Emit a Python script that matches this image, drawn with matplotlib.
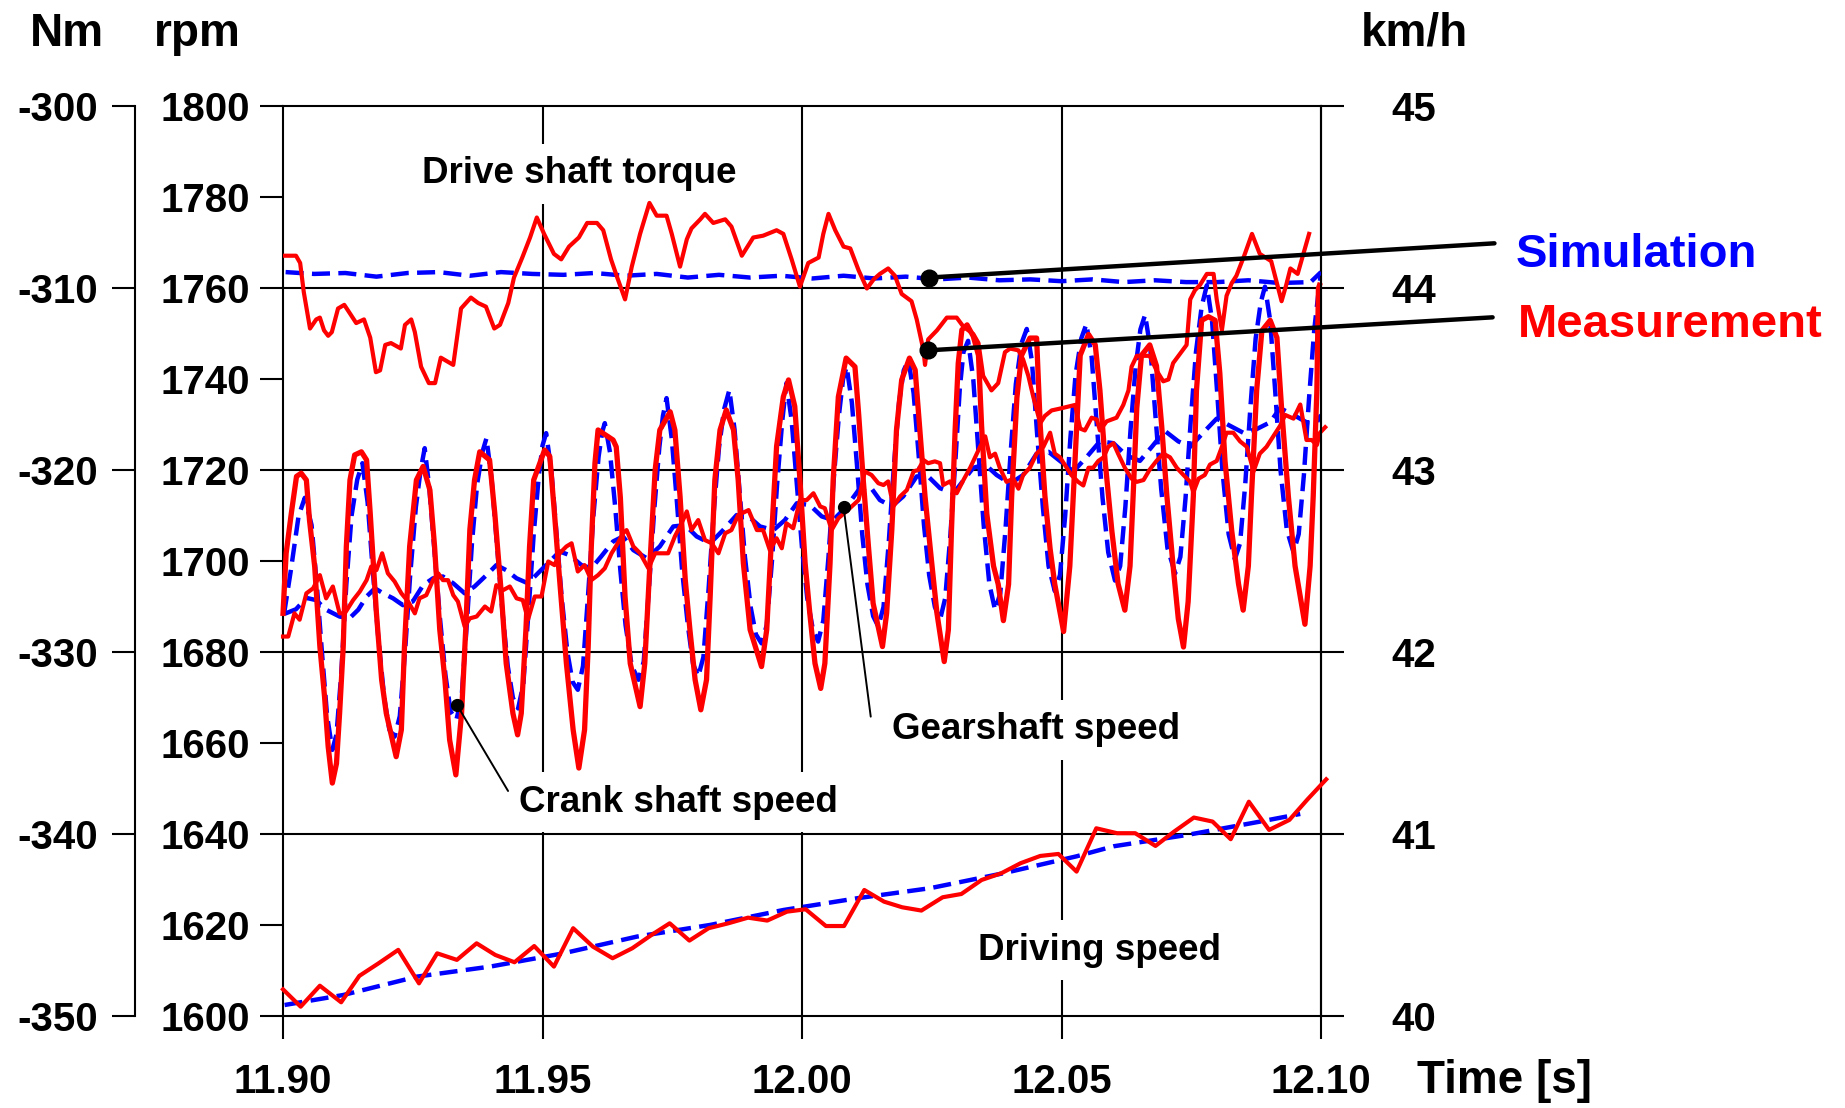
import matplotlib
matplotlib.use("Agg")
import matplotlib.pyplot as plt
from matplotlib.ticker import FormatStrFormatter, MultipleLocator

plt.rcParams.update({
    "font.family": ["Liberation Sans", "DejaVu Sans"],
    "font.weight": "bold",
    "axes.unicode_minus": False,
    "lines.scale_dashes": False,
    "axes.linewidth": 1.5,
})

RED = "#ff0000"
BLUE = "#0000ff"
DASH = (13, 6)

# ── data: crank shaft speed [rpm] ─────────────────────────────
crank_meas_t = [
    11.9000, 11.9006, 11.9016, 11.9026, 11.9035, 11.9045, 11.9051, 11.9061, 11.9071, 11.9080,
    11.9087, 11.9095, 11.9103, 11.9109, 11.9116, 11.9122, 11.9129, 11.9138, 11.9151, 11.9161,
    11.9168, 11.9180, 11.9190, 11.9199, 11.9218, 11.9228, 11.9234, 11.9244, 11.9257, 11.9270,
    11.9283, 11.9292, 11.9302, 11.9312, 11.9321, 11.9333, 11.9344, 11.9352, 11.9360, 11.9369,
    11.9379, 11.9398, 11.9408, 11.9421, 11.9430, 11.9443, 11.9452, 11.9459, 11.9468, 11.9475,
    11.9483, 11.9504, 11.9514, 11.9523, 11.9533, 11.9546, 11.9559, 11.9570, 11.9581, 11.9588,
    11.9594, 11.9601, 11.9607, 11.9636, 11.9642, 11.9650, 11.9659, 11.9669, 11.9688, 11.9697,
    11.9707, 11.9717, 11.9726, 11.9746, 11.9755, 11.9765, 11.9775, 11.9784, 11.9794, 11.9805,
    11.9816, 11.9823, 11.9832, 11.9842, 11.9854, 11.9868, 11.9877, 11.9887, 11.9900, 11.9922,
    11.9932, 11.9942, 11.9951, 11.9964, 11.9974, 11.9986, 11.9996, 12.0006, 12.0015, 12.0025,
    12.0036, 12.0044, 12.0054, 12.0060, 12.0070, 12.0085, 12.0102, 12.0109, 12.0118, 12.0128,
    12.0137, 12.0155, 12.0163, 12.0173, 12.0182, 12.0192, 12.0207, 12.0218, 12.0227, 12.0237,
    12.0250, 12.0260, 12.0274, 12.0282, 12.0288, 12.0295, 12.0301, 12.0308, 12.0318, 12.0330,
    12.0340, 12.0346, 12.0356, 12.0369, 12.0378, 12.0388, 12.0398, 12.0404, 12.0414, 12.0423,
    12.0439, 12.0452, 12.0459, 12.0468, 12.0478, 12.0487, 12.0504, 12.0516, 12.0526, 12.0536,
    12.0552, 12.0565, 12.0574, 12.0584, 12.0597, 12.0609, 12.0622, 12.0632, 12.0638, 12.0645,
    12.0654, 12.0670, 12.0683, 12.0693, 12.0703, 12.0715, 12.0725, 12.0735, 12.0744, 12.0754,
    12.0760, 12.0770, 12.0783, 12.0796, 12.0805, 12.0815, 12.0828, 12.0841, 12.0850, 12.0860,
    12.0866, 12.0876, 12.0886, 12.0902, 12.0915, 12.0924, 12.0937, 12.0950, 12.0969, 12.0979,
    12.0985, 12.0992, 12.0995, 12.0997,
]
crank_meas_rpm = [
    1688.6, 1701.8, 1710.6, 1718.7, 1719.4, 1717.9, 1709.1, 1698.9, 1681.3, 1670.3,
    1659.3, 1651.3, 1655.6, 1666.6, 1681.3, 1703.3, 1717.9, 1723.4, 1724.1, 1722.3,
    1710.6, 1688.6, 1674.0, 1666.6, 1657.1, 1663.0, 1681.3, 1703.3, 1717.9, 1720.9,
    1715.7, 1703.3, 1685.0, 1674.0, 1660.8, 1653.1, 1666.6, 1685.0, 1707.0, 1717.9,
    1724.1, 1722.3, 1710.6, 1692.3, 1677.6, 1666.6, 1661.9, 1666.6, 1685.0, 1703.3,
    1717.9, 1724.5, 1723.1, 1710.6, 1695.9, 1677.6, 1663.0, 1654.6, 1663.0, 1681.3,
    1703.3, 1721.6, 1728.9, 1726.7, 1725.2, 1714.0, 1692.3, 1677.6, 1668.1, 1677.6,
    1699.6, 1720.1, 1728.9, 1732.9, 1728.9, 1714.3, 1696.0, 1685.0, 1674.0, 1667.4,
    1674.0, 1692.3, 1717.9, 1728.9, 1733.3, 1728.9, 1717.9, 1699.6, 1685.0, 1676.9,
    1685.0, 1706.9, 1725.3, 1736.2, 1739.9, 1734.1, 1717.9, 1699.6, 1688.6, 1677.6,
    1672.1, 1677.6, 1699.6, 1717.9, 1736.2, 1744.7, 1742.8, 1732.6, 1717.9, 1703.3,
    1690.8, 1681.3, 1688.6, 1706.9, 1728.9, 1739.9, 1744.7, 1742.1, 1728.9, 1714.3,
    1699.6, 1688.6, 1678.0, 1685.0, 1706.9, 1728.9, 1743.6, 1750.9, 1752.0, 1749.5,
    1745.3, 1729.8, 1710.5, 1699.0, 1695.0, 1687.0, 1695.0, 1714.4, 1736.0, 1745.3,
    1749.1, 1749.1, 1729.8, 1714.4, 1702.8, 1695.0, 1684.6, 1699.0, 1722.1, 1745.3,
    1749.9, 1747.6, 1737.6, 1722.1, 1706.7, 1695.1, 1689.3, 1699.0, 1714.4, 1733.7,
    1745.3, 1747.6, 1743.0, 1729.8, 1714.4, 1699.0, 1687.4, 1681.2, 1691.2, 1714.4,
    1737.6, 1753.0, 1753.8, 1753.0, 1741.4, 1722.1, 1706.7, 1695.1, 1689.3, 1699.0,
    1714.4, 1737.6, 1750.7, 1753.0, 1749.2, 1733.7, 1714.4, 1699.0, 1686.2, 1699.0,
    1714.4, 1737.6, 1760.0, 1760.7,
]

crank_sim_t = [
    11.9002, 11.9015, 11.9030, 11.9042, 11.9055, 11.9065, 11.9075, 11.9085, 11.9095, 11.9103,
    11.9112, 11.9122, 11.9132, 11.9143, 11.9153, 11.9163, 11.9173, 11.9183, 11.9195, 11.9205,
    11.9215, 11.9225, 11.9235, 11.9245, 11.9256, 11.9265, 11.9273, 11.9282, 11.9292, 11.9302,
    11.9313, 11.9323, 11.9334, 11.9344, 11.9354, 11.9364, 11.9374, 11.9384, 11.9392, 11.9402,
    11.9412, 11.9422, 11.9433, 11.9443, 11.9453, 11.9463, 11.9473, 11.9483, 11.9493, 11.9500,
    11.9507, 11.9517, 11.9527, 11.9537, 11.9548, 11.9558, 11.9568, 11.9578, 11.9588, 11.9598,
    11.9608, 11.9615, 11.9620, 11.9630, 11.9640, 11.9650, 11.9660, 11.9672, 11.9685, 11.9695,
    11.9705, 11.9715, 11.9725, 11.9732, 11.9739, 11.9749, 11.9759, 11.9769, 11.9780, 11.9790,
    11.9800, 11.9810, 11.9820, 11.9830, 11.9840, 11.9850, 11.9860, 11.9870, 11.9880, 11.9890,
    11.9901, 11.9911, 11.9922, 11.9932, 11.9942, 11.9952, 11.9962, 11.9970, 11.9980, 11.9990,
    12.0000, 12.0010, 12.0021, 12.0031, 12.0041, 12.0051, 12.0061, 12.0071, 12.0079, 12.0086,
    12.0096, 12.0106, 12.0116, 12.0126, 12.0137, 12.0147, 12.0157, 12.0167, 12.0177, 12.0187,
    12.0196, 12.0205, 12.0215, 12.0225, 12.0235, 12.0245, 12.0256, 12.0266, 12.0276, 12.0286,
    12.0296, 12.0304, 12.0311, 12.0320, 12.0330, 12.0340, 12.0350, 12.0361, 12.0372, 12.0382,
    12.0392, 12.0402, 12.0412, 12.0423, 12.0433, 12.0443, 12.0453, 12.0464, 12.0475, 12.0487,
    12.0497, 12.0507, 12.0517, 12.0527, 12.0538, 12.0548, 12.0558, 12.0568, 12.0579, 12.0590,
    12.0603, 12.0613, 12.0623, 12.0633, 12.0643, 12.0652, 12.0661, 12.0671, 12.0681, 12.0692,
    12.0704, 12.0719, 12.0729, 12.0739, 12.0749, 12.0759, 12.0770, 12.0780, 12.0790, 12.0800,
    12.0810, 12.0822, 12.0834, 12.0844, 12.0854, 12.0864, 12.0874, 12.0884, 12.0892, 12.0902,
    12.0912, 12.0922, 12.0934, 12.0947, 12.0957, 12.0967, 12.0977, 12.0987, 12.0995, 12.1000,
]
crank_sim_rpm = [
    1688.5, 1698, 1710, 1714, 1708, 1695, 1680, 1666, 1658.6, 1662,
    1675, 1695, 1710, 1718, 1721.6, 1713, 1698, 1684, 1670, 1663,
    1661.5, 1666, 1680, 1697, 1712, 1720, 1724.9, 1716, 1702, 1688,
    1675, 1667, 1665.2, 1670, 1686, 1704, 1717, 1724, 1727.1, 1718,
    1704, 1690, 1677, 1670, 1667.7, 1673, 1689, 1706, 1719, 1725.5,
    1728.2, 1720, 1706, 1692, 1680, 1673.5, 1671.8, 1677, 1693, 1710,
    1723, 1728.5, 1730.4, 1724, 1712, 1698, 1686, 1677, 1674, 1678,
    1694, 1711, 1725, 1732, 1735.9, 1727, 1713, 1698, 1686, 1677.5,
    1674.7, 1679, 1694, 1711, 1725, 1733.5, 1737.7, 1729, 1715, 1701,
    1690, 1684, 1682, 1686, 1700, 1717, 1731, 1739.2, 1731, 1717,
    1703, 1692, 1685, 1682.4, 1687, 1701, 1718, 1732, 1740, 1742.8,
    1735, 1721, 1706, 1695, 1688, 1685.7, 1690, 1704, 1721, 1735,
    1742, 1744.3, 1737, 1723, 1708, 1697, 1690, 1687.2, 1692, 1706,
    1723, 1738, 1746, 1748.5, 1740, 1724, 1708, 1695, 1689.3, 1693,
    1707, 1724, 1739, 1748, 1751.1, 1744, 1728, 1712, 1699, 1693.5,
    1697, 1710, 1727, 1741, 1749, 1752.2, 1745, 1730, 1714, 1702,
    1695.8, 1699, 1712, 1729, 1743, 1751, 1754.2, 1747, 1732, 1716,
    1703, 1697.4, 1701, 1714, 1731, 1746, 1756, 1760.7, 1753, 1737,
    1720, 1706, 1700.5, 1704, 1717, 1734, 1749, 1757, 1760.4, 1753,
    1737, 1720, 1707, 1702, 1706, 1719, 1736, 1751, 1759, 1763.5,
]

# ── data: gearshaft speed [rpm] ───────────────────────────────
gear_meas_t = [
    11.9000, 11.9010, 11.9022, 11.9032, 11.9045, 11.9058, 11.9071, 11.9083, 11.9096, 11.9109,
    11.9119, 11.9135, 11.9148, 11.9161, 11.9170, 11.9180, 11.9191, 11.9202, 11.9215, 11.9228,
    11.9241, 11.9254, 11.9263, 11.9276, 11.9289, 11.9299, 11.9308, 11.9318, 11.9328, 11.9337,
    11.9350, 11.9360, 11.9373, 11.9389, 11.9401, 11.9411, 11.9424, 11.9437, 11.9450, 11.9462,
    11.9472, 11.9485, 11.9498, 11.9511, 11.9523, 11.9533, 11.9546, 11.9556, 11.9568, 11.9581,
    11.9594, 11.9607, 11.9620, 11.9633, 11.9645, 11.9655, 11.9662, 11.9675, 11.9688, 11.9704,
    11.9717, 11.9742, 11.9755, 11.9768, 11.9778, 11.9787, 11.9800, 11.9813, 11.9826, 11.9839,
    11.9852, 11.9864, 11.9877, 11.9897, 11.9913, 11.9925, 11.9938, 11.9951, 11.9961, 11.9970,
    11.9983, 11.9996, 12.0009, 12.0022, 12.0035, 12.0044, 12.0057, 12.0070, 12.0092, 12.0109,
    12.0121, 12.0134, 12.0147, 12.0157, 12.0166, 12.0176, 12.0189, 12.0202, 12.0215, 12.0224,
    12.0234, 12.0243, 12.0256, 12.0266, 12.0272, 12.0285, 12.0298, 12.0311, 12.0324, 12.0343,
    12.0353, 12.0362, 12.0372, 12.0381, 12.0394, 12.0407, 12.0417, 12.0426, 12.0439, 12.0452,
    12.0465, 12.0478, 12.0487, 12.0497, 12.0510, 12.0519, 12.0532, 12.0542, 12.0552, 12.0561,
    12.0571, 12.0581, 12.0590, 12.0600, 12.0609, 12.0622, 12.0635, 12.0645, 12.0658, 12.0670,
    12.0683, 12.0696, 12.0709, 12.0722, 12.0735, 12.0748, 12.0754, 12.0764, 12.0776, 12.0786,
    12.0799, 12.0809, 12.0818, 12.0831, 12.0844, 12.0857, 12.0870, 12.0882, 12.0895, 12.0908,
    12.0921, 12.0931, 12.0947, 12.0960, 12.0972, 12.0982, 12.0992, 12.0998, 12.1008,
]
gear_meas_rpm = [
    1683.5, 1683.5, 1688.6, 1687.2, 1693.0, 1694.1, 1697.0, 1691.9, 1694.5, 1688.6,
    1688.6, 1691.5, 1693.4, 1695.9, 1698.9, 1698.1, 1701.8, 1697.4, 1695.6, 1693.0,
    1691.2, 1688.6, 1691.9, 1692.6, 1695.9, 1697.4, 1695.9, 1695.9, 1692.6, 1691.2,
    1685.7, 1687.5, 1687.9, 1690.1, 1689.0, 1694.8, 1693.7, 1694.5, 1691.9, 1691.5,
    1687.2, 1692.3, 1692.3, 1700.0, 1699.2, 1701.8, 1703.3, 1704.0, 1697.8, 1699.2,
    1695.9, 1697.0, 1698.5, 1701.8, 1704.0, 1706.2, 1706.9, 1703.3, 1701.8, 1698.5,
    1701.8, 1701.8, 1705.5, 1708.4, 1711.0, 1706.9, 1709.1, 1704.7, 1704.0, 1701.8,
    1706.2, 1706.9, 1710.2, 1711.3, 1706.9, 1706.9, 1702.5, 1705.1, 1702.9, 1708.4,
    1707.3, 1713.5, 1713.5, 1715.0, 1712.1, 1711.7, 1706.9, 1709.5, 1711.7, 1713.5,
    1719.8, 1719.0, 1717.2, 1716.8, 1717.6, 1712.1, 1714.3, 1715.7, 1719.8, 1720.1,
    1722.3, 1721.6, 1722.0, 1721.6, 1716.8, 1717.6, 1715.0, 1717.9, 1720.6, 1725.2,
    1727.5, 1722.9, 1723.7, 1720.6, 1717.5, 1718.2, 1716.0, 1719.0, 1720.6, 1723.7,
    1725.2, 1728.3, 1723.7, 1722.9, 1720.6, 1719.0, 1717.5, 1716.7, 1720.6, 1720.6,
    1722.1, 1722.9, 1725.2, 1726.0, 1723.7, 1720.6, 1718.2, 1717.5, 1717.9, 1720.2,
    1722.1, 1723.7, 1722.9, 1720.6, 1719.0, 1717.5, 1715.2, 1718.2, 1719.0, 1721.3,
    1722.1, 1725.2, 1728.3, 1728.3, 1726.4, 1725.2, 1719.8, 1723.7, 1725.2, 1727.5,
    1729.8, 1732.2, 1731.4, 1734.5, 1726.7, 1726.7, 1725.6, 1728.3, 1729.5,
]

gear_sim_t = [
    11.9003, 11.9025, 11.9045, 11.9064, 11.9083, 11.9109, 11.9128, 11.9145, 11.9161, 11.9177,
    11.9193, 11.9212, 11.9231, 11.9250, 11.9270, 11.9289, 11.9308, 11.9328, 11.9350, 11.9369,
    11.9392, 11.9411, 11.9430, 11.9450, 11.9472, 11.9491, 11.9514, 11.9533, 11.9552, 11.9575,
    11.9594, 11.9613, 11.9636, 11.9655, 11.9675, 11.9701, 11.9726, 11.9752, 11.9775, 11.9797,
    11.9823, 11.9848, 11.9874, 11.9897, 11.9919, 11.9945, 11.9967, 11.9990, 12.0015, 12.0038,
    12.0060, 12.0086, 12.0109, 12.0131, 12.0150, 12.0173, 12.0195, 12.0221, 12.0243, 12.0266,
    12.0292, 12.0317, 12.0330, 12.0353, 12.0375, 12.0401, 12.0426, 12.0452, 12.0475, 12.0497,
    12.0523, 12.0548, 12.0574, 12.0600, 12.0625, 12.0651, 12.0674, 12.0699, 12.0725, 12.0748,
    12.0773, 12.0799, 12.0825, 12.0850, 12.0876, 12.0902, 12.0921, 12.0947, 12.0972, 12.0992,
    12.1000,
]
gear_sim_rpm = [
    1688.5, 1689.5, 1692.0, 1691.5, 1689.4, 1687.9, 1687.5, 1689.4, 1692.3, 1694.1,
    1693.0, 1691.9, 1690.4, 1691.2, 1694.8, 1696.3, 1696.7, 1695.2, 1693.0, 1694.5,
    1697.0, 1699.2, 1698.1, 1696.3, 1695.2, 1697.4, 1700.0, 1702.2, 1701.4, 1699.2,
    1698.5, 1701.1, 1704.4, 1705.5, 1702.5, 1700.7, 1703.3, 1707.7, 1708.0, 1705.5,
    1704.0, 1706.9, 1710.2, 1709.9, 1707.7, 1706.9, 1709.1, 1712.8, 1712.4, 1709.9,
    1709.1, 1712.1, 1715.7, 1716.5, 1713.5, 1712.1, 1714.3, 1718.7, 1718.7, 1716.1,
    1715.0, 1718.7, 1720.6, 1721.3, 1719.0, 1717.1, 1719.0, 1723.7, 1724.1, 1722.1,
    1719.8, 1722.9, 1726.4, 1726.0, 1723.3, 1722.1, 1725.2, 1728.7, 1726.4, 1725.2,
    1728.3, 1731.4, 1729.8, 1728.3, 1729.1, 1730.6, 1733.7, 1732.2, 1730.6, 1730.6,
    1732.2,
]

# ── data: drive shaft torque [Nm] ─────────────────────────────
torque_meas_t = [
    11.9000, 11.9025, 11.9033, 11.9040, 11.9052, 11.9064, 11.9071, 11.9079, 11.9087, 11.9094,
    11.9106, 11.9118, 11.9125, 11.9141, 11.9156, 11.9168, 11.9179, 11.9187, 11.9197, 11.9208,
    11.9227, 11.9235, 11.9247, 11.9254, 11.9266, 11.9281, 11.9293, 11.9304, 11.9328, 11.9343,
    11.9362, 11.9376, 11.9391, 11.9407, 11.9418, 11.9434, 11.9445, 11.9461, 11.9476, 11.9489,
    11.9503, 11.9522, 11.9536, 11.9551, 11.9570, 11.9586, 11.9605, 11.9617, 11.9632, 11.9644,
    11.9659, 11.9672, 11.9688, 11.9706, 11.9720, 11.9739, 11.9749, 11.9765, 11.9778, 11.9787,
    11.9804, 11.9813, 11.9829, 11.9852, 11.9864, 11.9884, 11.9906, 11.9925, 11.9951, 11.9964,
    11.9980, 11.9996, 12.0012, 12.0032, 12.0041, 12.0051, 12.0064, 12.0080, 12.0093, 12.0109,
    12.0125, 12.0138, 12.0150, 12.0166, 12.0179, 12.0192, 12.0211, 12.0221, 12.0234, 12.0237,
    12.0243, 12.0260, 12.0279, 12.0298, 12.0311, 12.0330, 12.0340, 12.0349, 12.0365, 12.0378,
    12.0391, 12.0401, 12.0417, 12.0426, 12.0436, 12.0446, 12.0459, 12.0468, 12.0481, 12.0497,
    12.0526, 12.0536, 12.0545, 12.0558, 12.0568, 12.0574, 12.0587, 12.0606, 12.0619, 12.0629,
    12.0635, 12.0645, 12.0670, 12.0683, 12.0696, 12.0706, 12.0715, 12.0728, 12.0741, 12.0748,
    12.0757, 12.0767, 12.0780, 12.0793, 12.0799, 12.0809, 12.0818, 12.0828, 12.0837, 12.0852,
    12.0867, 12.0882, 12.0904, 12.0915, 12.0924, 12.0933, 12.0941, 12.0955, 12.0966, 12.0974,
    12.0977,
]
torque_meas_nm = [
    -308.2, -308.2, -308.6, -310.2, -312.2, -311.7, -311.6, -312.3, -312.6, -312.4,
    -311.1, -310.9, -311.2, -311.9, -311.7, -312.7, -314.6, -314.5, -313.1, -313.0,
    -313.3, -312.0, -311.7, -312.4, -314.3, -315.2, -315.2, -313.8, -314.2, -311.1,
    -310.5, -310.8, -311.0, -312.2, -312.0, -310.8, -309.4, -308.3, -307.2, -306.1,
    -307.0, -308.1, -308.4, -307.7, -307.2, -306.4, -306.4, -306.8, -308.4, -309.4,
    -310.6, -308.8, -307.0, -305.3, -306.0, -306.0, -307.0, -308.8, -307.3, -306.7,
    -306.2, -305.9, -306.4, -306.2, -306.6, -308.2, -307.2, -307.1, -306.8, -307.0,
    -308.4, -309.9, -308.6, -308.3, -307.0, -305.9, -306.8, -307.7, -307.8, -309.0,
    -310.0, -309.5, -309.2, -308.9, -309.3, -310.3, -310.7, -311.7, -313.4, -314.2,
    -312.8, -312.3, -311.6, -311.6, -312.1, -312.5, -313.0, -314.8, -315.6, -315.2,
    -313.5, -313.3, -313.4, -313.9, -314.8, -316.0, -317.4, -317.0, -316.7, -316.6,
    -316.4, -317.7, -317.8, -317.1, -317.2, -317.8, -317.3, -317.1, -316.4, -315.6,
    -314.3, -313.7, -313.7, -314.5, -315.1, -315.0, -314.1, -313.6, -313.1, -310.6,
    -310.1, -309.8, -309.2, -309.2, -310.6, -312.3, -310.4, -309.7, -309.3, -308.2,
    -307.0, -308.1, -308.5, -309.7, -310.7, -309.8, -308.9, -309.2, -308.1, -307.3,
    -307.0,
]

torque_sim_t = [
    11.9005, 11.9060, 11.9120, 11.9180, 11.9240, 11.9300, 11.9360, 11.9420, 11.9480, 11.9540,
    11.9600, 11.9660, 11.9720, 11.9780, 11.9840, 11.9900, 11.9960, 12.0020, 12.0080, 12.0140,
    12.0200, 12.0260, 12.0320, 12.0380, 12.0440, 12.0500, 12.0560, 12.0620, 12.0680, 12.0740,
    12.0800, 12.0860, 12.0920, 12.0980, 12.1000,
]
torque_sim_nm = [
    -309.10, -309.20, -309.15, -309.35, -309.15, -309.10, -309.30, -309.10, -309.20, -309.25,
    -309.15, -309.30, -309.20, -309.40, -309.25, -309.40, -309.30, -309.45, -309.30, -309.45,
    -309.35, -309.50, -309.40, -309.55, -309.50, -309.60, -309.50, -309.65, -309.55, -309.65,
    -309.65, -309.55, -309.70, -309.65, -309.10,
]

# ── data: driving speed [km/h] ────────────────────────────────
speed_meas_t = [
    11.9000, 11.9034, 11.9071, 11.9112, 11.9147, 11.9184, 11.9222, 11.9262, 11.9297, 11.9335,
    11.9373, 11.9409, 11.9446, 11.9484, 11.9522, 11.9559, 11.9597, 11.9635, 11.9673, 11.9710,
    11.9745, 11.9783, 11.9820, 11.9858, 11.9896, 11.9933, 11.9971, 12.0007, 12.0046, 12.0081,
    12.0120, 12.0158, 12.0193, 12.0230, 12.0271, 12.0307, 12.0346, 12.0384, 12.0421, 12.0459,
    12.0494, 12.0529, 12.0567, 12.0607, 12.0642, 12.0681, 12.0717, 12.0755, 12.0791, 12.0826,
    12.0861, 12.0900, 12.0939, 12.0974, 12.1010,
]
speed_meas_kmh = [
    40.149, 40.054, 40.169, 40.078, 40.223, 40.292, 40.366, 40.182, 40.347, 40.311,
    40.402, 40.338, 40.298, 40.387, 40.274, 40.485, 40.384, 40.320, 40.375, 40.448,
    40.512, 40.417, 40.485, 40.512, 40.543, 40.527, 40.576, 40.589, 40.497, 40.497,
    40.695, 40.631, 40.600, 40.582, 40.655, 40.673, 40.750, 40.787, 40.842, 40.882,
    40.893, 40.796, 41.034, 41.007, 41.007, 40.937, 41.016, 41.093, 41.071, 40.974,
    41.180, 41.025, 41.080, 41.193, 41.303,
]

speed_sim_t = [
    11.9003, 11.9116, 11.9258, 11.9399, 11.9540, 11.9682, 11.9823, 11.9964, 12.0105, 12.0247,
    12.0388, 12.0529, 12.0600, 12.0741, 12.0812, 12.0883, 12.0960,
]
speed_sim_kmh = [
    40.063, 40.118, 40.219, 40.274, 40.347, 40.439, 40.503, 40.585, 40.649, 40.705,
    40.787, 40.880, 40.935, 40.997, 41.034, 41.071, 41.113,
]

# annotation anchor points (on the curves)
SIM_MARK = (12.0245, -309.4)      # torque simulation, Nm
MEAS_MARK = (12.0242, -313.4)     # torque measurement, Nm
CRANK_MARK = (11.9335, 1668.5)    # rpm
GEAR_MARK = (12.0080, 1712.0)     # rpm

# ── figure ────────────────────────────────────────────────────
fig = plt.figure(figsize=(18.45, 11.08), dpi=100)
ax = fig.add_axes([0.1534, 0.0826, 0.5626, 0.8213])
ax_kmh = ax.twinx()
ax_nm = ax.twinx()

ax.set_xlim(11.90, 12.10)
ax.set_ylim(1600, 1800)
ax_kmh.set_ylim(40, 45)
ax_nm.set_ylim(-350, -300)

ax.xaxis.set_major_locator(MultipleLocator(0.05))
ax.xaxis.set_major_formatter(FormatStrFormatter("%.2f"))
ax.yaxis.set_major_locator(MultipleLocator(20))
ax_kmh.yaxis.set_major_locator(MultipleLocator(1))
ax_nm.yaxis.set_major_locator(MultipleLocator(10))

TL = 16.5
ax.tick_params(axis="y", direction="out", length=TL, width=1.5, pad=7, labelsize=29)
ax.tick_params(axis="x", direction="out", length=TL, width=1.5, pad=17, labelsize=29)
ax_kmh.tick_params(axis="y", direction="out", length=TL, width=1.5, pad=34, labelsize=29)
ax_nm.tick_params(axis="y", direction="out", length=TL, width=1.5, pad=10, labelsize=29)

for s in ["top", "bottom", "left"]:
    ax_kmh.spines[s].set_visible(False)
ax_nm.spines["left"].set_position(("outward", 106.5))
ax_nm.spines["left"].set_visible(True)
for s in ["top", "bottom", "right"]:
    ax_nm.spines[s].set_visible(False)
ax_nm.yaxis.set_ticks_position("left")
ax_nm.yaxis.set_label_position("left")

# grid
for xv in [11.95, 12.00, 12.05]:
    ax.axvline(xv, color="black", lw=1.5, zorder=0.5)
for yv in [1640, 1680, 1720, 1760]:
    ax.axhline(yv, color="black", lw=1.5, zorder=0.5)

# curves
ax.plot(gear_sim_t, gear_sim_rpm, color=BLUE, lw=3.2, dashes=DASH, zorder=3)
ax.plot(crank_sim_t, crank_sim_rpm, color=BLUE, lw=3.2, dashes=DASH, zorder=3)
ax.plot(gear_meas_t, gear_meas_rpm, color=RED, lw=3.0, zorder=4, clip_on=False)
ax.plot(crank_meas_t, crank_meas_rpm, color=RED, lw=3.8, zorder=4, clip_on=False)

ax_nm.plot(torque_sim_t, torque_sim_nm, color=BLUE, lw=3.2, dashes=DASH, zorder=3)
ax_nm.plot(torque_meas_t, torque_meas_nm, color=RED, lw=3.0, zorder=4)

ax_kmh.plot(speed_sim_t, speed_sim_kmh, color=BLUE, lw=3.2, dashes=DASH, zorder=3)
ax_kmh.plot(speed_meas_t, speed_meas_kmh, color=RED, lw=3.0, zorder=4, clip_on=False)

# curve labels (white box breaks the grid)
box = dict(facecolor="white", edgecolor="none", pad=9)
LBL = 26.5
ax.text(0.134, 0.9156, "Drive shaft torque", transform=ax.transAxes,
        fontsize=LBL, va="baseline", bbox=box, zorder=2)
ax.text(0.2274, 0.2251, "Crank shaft speed", transform=ax.transAxes,
        fontsize=LBL, va="baseline", bbox=box, zorder=2)
ax.text(0.5864, 0.3049, "Gearshaft speed", transform=ax.transAxes,
        fontsize=LBL, va="baseline", bbox=box, zorder=2)
ax.text(0.6693, 0.0621, "Driving speed", transform=ax.transAxes,
        fontsize=LBL, va="baseline", bbox=box, zorder=2)

# leader lines + dots
thin = dict(arrowstyle="-", lw=1.4, color="black", shrinkA=0, shrinkB=0)
thick = dict(arrowstyle="-", lw=3.2, color="black", shrinkA=0, shrinkB=0)
ax.annotate("", xy=CRANK_MARK, xytext=(0.2168, 0.2478), textcoords="axes fraction",
            arrowprops=thin, zorder=6)
ax.annotate("", xy=GEAR_MARK, xytext=(0.5662, 0.3295), textcoords="axes fraction",
            arrowprops=thin, zorder=6)
ax.plot(*CRANK_MARK, "o", color="black", ms=8.5, zorder=7)
ax.plot(*GEAR_MARK, "o", color="black", ms=8.5, zorder=7)

ax_nm.annotate("", xy=SIM_MARK, xytext=(0.8100, 0.7804), textcoords="figure fraction",
               arrowprops=thick, zorder=6, annotation_clip=False)
ax_nm.annotate("", xy=MEAS_MARK, xytext=(0.8090, 0.7136), textcoords="figure fraction",
               arrowprops=thick, zorder=6, annotation_clip=False)
ax_nm.plot(*SIM_MARK, "o", color="black", ms=12, zorder=7)
ax_nm.plot(*MEAS_MARK, "o", color="black", ms=12, zorder=7)

# unit labels and legend texts
fig.text(0.0161, 0.9585, "Nm", fontsize=33, va="baseline")
fig.text(0.0835, 0.9585, "rpm", fontsize=33, va="baseline")
fig.text(0.7377, 0.9585, "km/h", fontsize=33, va="baseline")
fig.text(0.7680, 0.0135, "Time [s]", fontsize=33, va="baseline")
fig.text(0.8217, 0.7593, "Simulation", fontsize=34, color=BLUE, va="baseline")
fig.text(0.8228, 0.6961, "Measurement", fontsize=34, color=RED, va="baseline")

fig.savefig("out.png", dpi=100, facecolor="white")
